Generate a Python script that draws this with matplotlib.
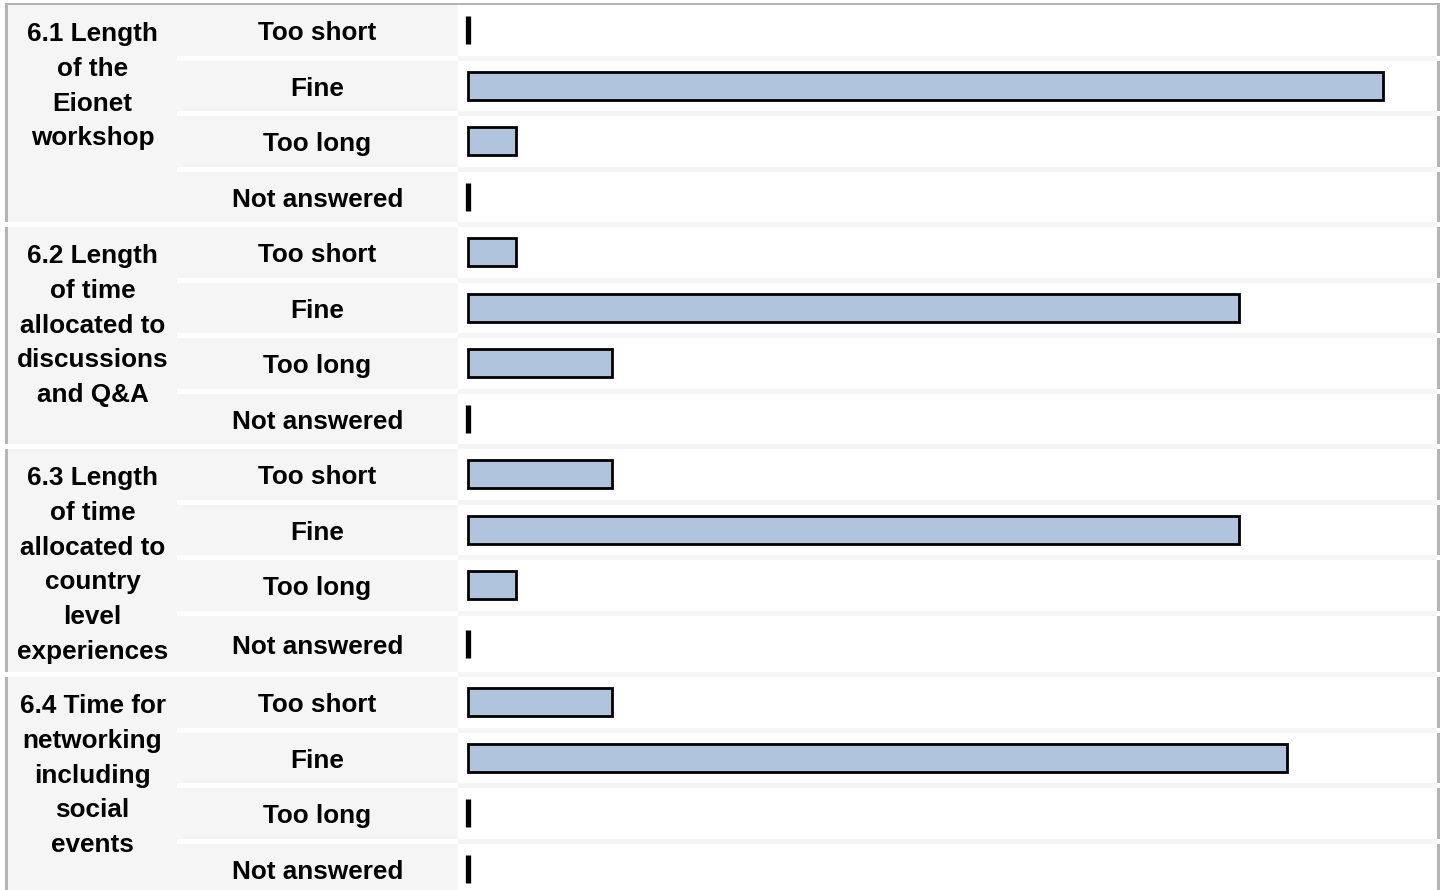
import numpy as np
import matplotlib.pyplot as plt
from matplotlib.patches import Rectangle

# survey data: number of respondents per answer
questions = [
    "6.1 Length\nof the\nEionet\nworkshop",
    "6.2 Length\nof time\nallocated to\ndiscussions\nand Q&A",
    "6.3 Length\nof time\nallocated to\ncountry\nlevel\nexperiences",
    "6.4 Time for\nnetworking\nincluding\nsocial\nevents",
]
answers = ["Too short", "Fine", "Too long", "Not answered"]
counts_61 = [0, 19, 1, 0]
counts_62 = [1, 16, 3, 0]
counts_63 = [3, 16, 1, 0]
counts_64 = [3, 17, 0, 0]
counts = [counts_61, counts_62, counts_63, counts_64]

# layout in pixels (figure is 1444 x 890)
W, H = 1444, 890
GRAY = "#f5f5f5"
BORDER = "#b4b4b4"
BAR = "#b0c4de"
group_tops = [5, 227, 449, 677]
group_heights = [217, 217, 223, 217]
row_h, gap = 50.5, 5
x_left, x_ans, x_bar, x_right = 8, 177, 458, 1437
zero_px, unit_px = 467.5, 48.2
font = "Liberation Sans"
fs = 18.8

fig = plt.figure(figsize=(W / 100, H / 100), dpi=100)
bg = fig.add_axes([0, 0, 1, 1])
bg.set_xlim(0, W)
bg.set_ylim(H, 0)
bg.axis("off")

def rect(x0, y0, x1, y1, color):
    bg.add_patch(Rectangle((x0, y0), x1 - x0, y1 - y0, facecolor=color,
                           edgecolor="none", linewidth=0))

# bar column background (gaps are light gray)
rect(x_bar, 5, x_right, H, GRAY)
# top border
rect(5, 3, x_right + 3, 5, BORDER)

row_centers = []
for g, top in enumerate(group_tops):
    bottom = top + group_heights[g]
    rect(x_left, top, x_ans, bottom, GRAY)
    rect(5, 3 if g == 0 else top, x_left, bottom, BORDER)
    for i, ans in enumerate(answers):
        r0 = top + i * (row_h + gap)
        r1 = r0 + row_h if i < len(answers) - 1 else bottom
        rect(x_ans, r0, x_bar, r1, GRAY)
        rect(x_bar, r0, x_right, r1, "white")
        rect(x_right, 3 if (g == 0 and i == 0) else r0, x_right + 3, r1, BORDER)
        yc = (r0 + r1) / 2
        row_centers.append(yc)
        bg.text((x_ans + x_bar) / 2, yc + 3, ans, ha="center", va="center",
                fontsize=fs, fontweight="bold", family=font)
    for k, line in enumerate(questions[g].split("\n")):
        bg.text((x_left + x_ans) / 2, top + 29 + k * 34.8, line, ha="center",
                va="center", fontsize=fs, fontweight="bold", family=font)

# bars, drawn in count units on their own axes over the bar column
ax = fig.add_axes([x_bar / W, 0, (x_right - x_bar) / W, 1])
ax.set_ylim(H, 0)
ax.set_xlim(-(zero_px - x_bar) / unit_px, (x_right - zero_px) / unit_px)
ax.axis("off")
vals = np.concatenate(counts)
lw = np.where(vals == 0, 3.8, 2.0)
ax.barh(row_centers, vals, height=28, left=0, color=BAR, edgecolor="black",
        linewidth=lw)

fig.savefig("out.png", dpi=100)
